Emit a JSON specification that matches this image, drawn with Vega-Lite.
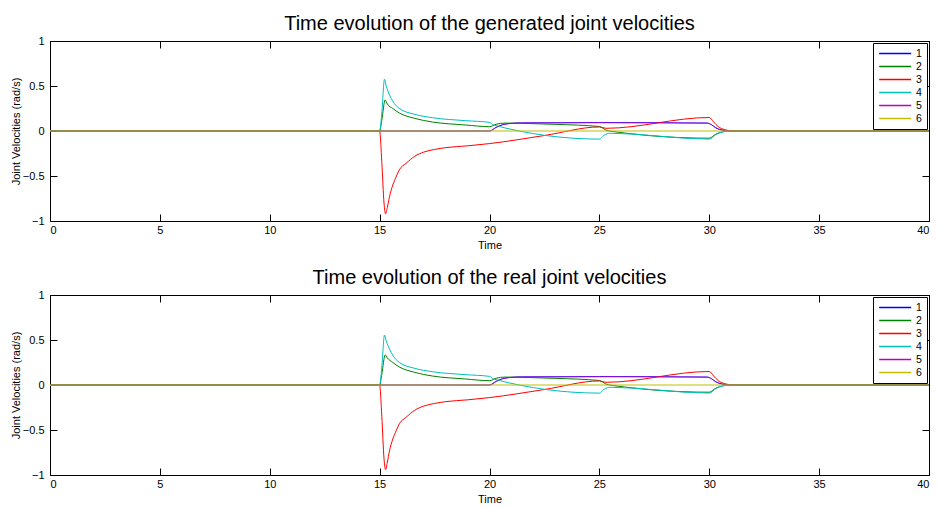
{
  "$schema": "https://vega.github.io/schema/vega-lite/v6.json",
  "padding": {"left": 9, "top": 13, "right": 2, "bottom": 0},
  "background": "white",
  "config": {
    "font": "Liberation Sans",
    "view": {"stroke": "black", "strokeWidth": 1},
    "concat": {"spacing": 16},
    "title": {"fontSize": 20, "fontWeight": "normal", "color": "black", "offset": 1, "anchor": "middle"},
    "axis": {
      "grid": false,
      "domainColor": "black",
      "tickColor": "black",
      "labelColor": "black",
      "titleColor": "black",
      "labelFontSize": 11,
      "titleFontSize": 11,
      "titleFontWeight": "normal",
      "tickSize": -7,
      "labelPadding": 10
    },
    "axisY": {"labelPadding": 13, "titlePadding": 1},
    "legend": {
      "orient": "top-right",
      "offset": 2,
      "fillColor": "white",
      "strokeColor": "black",
      "padding": 5,
      "symbolType": "M-1,0H5",
      "symbolSize": 114,
      "symbolStrokeWidth": 1.5,
      "labelFontSize": 10.5,
      "labelOffset": 25,
      "rowPadding": 2,
      "clipHeight": 11
    }
  },
  "datasets": {
    "gen": [
      {"j": "1", "t": 0, "v": 0}, {"j": "1", "t": 20, "v": 0}, {"j": "1", "t": 20.3, "v": 0.04}, {"j": "1", "t": 20.6, "v": 0.07}, {"j": "1", "t": 21, "v": 0.085}, {"j": "1", "t": 21.5, "v": 0.09}, {"j": "1", "t": 25, "v": 0.093}, {"j": "1", "t": 29.9, "v": 0.088}, {"j": "1", "t": 30.1, "v": 0.07}, {"j": "1", "t": 30.3, "v": 0.035}, {"j": "1", "t": 30.6, "v": 0.01}, {"j": "1", "t": 31, "v": 0}, {"j": "1", "t": 40, "v": 0},
      {"j": "2", "t": 0, "v": 0}, {"j": "2", "t": 15, "v": 0}, {"j": "2", "t": 15.1, "v": 0.12}, {"j": "2", "t": 15.25, "v": 0.345}, {"j": "2", "t": 15.35, "v": 0.3}, {"j": "2", "t": 15.6, "v": 0.25}, {"j": "2", "t": 15.9, "v": 0.2}, {"j": "2", "t": 16.6, "v": 0.14}, {"j": "2", "t": 17.4, "v": 0.1}, {"j": "2", "t": 18.9, "v": 0.067}, {"j": "2", "t": 20, "v": 0.048}, {"j": "2", "t": 20.3, "v": 0.075}, {"j": "2", "t": 20.7, "v": 0.088}, {"j": "2", "t": 21.5, "v": 0.085}, {"j": "2", "t": 23, "v": 0.074}, {"j": "2", "t": 25, "v": 0.05}, {"j": "2", "t": 25.3, "v": 0.01}, {"j": "2", "t": 25.6, "v": -0.005}, {"j": "2", "t": 30, "v": -0.08}, {"j": "2", "t": 30.3, "v": -0.035}, {"j": "2", "t": 30.6, "v": -0.01}, {"j": "2", "t": 31, "v": 0}, {"j": "2", "t": 40, "v": 0},
      {"j": "3", "t": 0, "v": 0}, {"j": "3", "t": 15, "v": 0}, {"j": "3", "t": 15.1, "v": -0.35}, {"j": "3", "t": 15.2, "v": -0.8}, {"j": "3", "t": 15.27, "v": -0.92}, {"j": "3", "t": 15.35, "v": -0.85}, {"j": "3", "t": 15.45, "v": -0.73}, {"j": "3", "t": 15.6, "v": -0.6}, {"j": "3", "t": 15.75, "v": -0.51}, {"j": "3", "t": 15.9, "v": -0.43}, {"j": "3", "t": 16.2, "v": -0.36}, {"j": "3", "t": 16.6, "v": -0.28}, {"j": "3", "t": 17, "v": -0.235}, {"j": "3", "t": 17.5, "v": -0.205}, {"j": "3", "t": 18, "v": -0.185}, {"j": "3", "t": 19, "v": -0.165}, {"j": "3", "t": 20, "v": -0.14}, {"j": "3", "t": 22.5, "v": -0.05}, {"j": "3", "t": 25, "v": 0.045}, {"j": "3", "t": 25.3, "v": 0.03}, {"j": "3", "t": 30, "v": 0.15}, {"j": "3", "t": 30.2, "v": 0.1}, {"j": "3", "t": 30.4, "v": 0.05}, {"j": "3", "t": 30.7, "v": 0.015}, {"j": "3", "t": 31, "v": 0.003}, {"j": "3", "t": 31.5, "v": 0}, {"j": "3", "t": 40, "v": 0},
      {"j": "4", "t": 0, "v": 0}, {"j": "4", "t": 15, "v": 0}, {"j": "4", "t": 15.1, "v": 0.2}, {"j": "4", "t": 15.22, "v": 0.575}, {"j": "4", "t": 15.3, "v": 0.5}, {"j": "4", "t": 15.45, "v": 0.4}, {"j": "4", "t": 15.6, "v": 0.33}, {"j": "4", "t": 15.9, "v": 0.25}, {"j": "4", "t": 16.6, "v": 0.185}, {"j": "4", "t": 17.4, "v": 0.148}, {"j": "4", "t": 18.9, "v": 0.115}, {"j": "4", "t": 20, "v": 0.096}, {"j": "4", "t": 20.2, "v": 0.065}, {"j": "4", "t": 25, "v": -0.09}, {"j": "4", "t": 25.2, "v": -0.05}, {"j": "4", "t": 25.5, "v": -0.025}, {"j": "4", "t": 30, "v": -0.09}, {"j": "4", "t": 30.3, "v": -0.04}, {"j": "4", "t": 30.6, "v": -0.01}, {"j": "4", "t": 31, "v": 0}, {"j": "4", "t": 40, "v": 0},
      {"j": "5", "t": 0, "v": 0}, {"j": "5", "t": 20, "v": 0}, {"j": "5", "t": 20.3, "v": 0.04}, {"j": "5", "t": 20.6, "v": 0.07}, {"j": "5", "t": 21, "v": 0.085}, {"j": "5", "t": 21.5, "v": 0.09}, {"j": "5", "t": 25, "v": 0.093}, {"j": "5", "t": 29.9, "v": 0.088}, {"j": "5", "t": 30.1, "v": 0.07}, {"j": "5", "t": 30.3, "v": 0.035}, {"j": "5", "t": 30.6, "v": 0.01}, {"j": "5", "t": 31, "v": 0}, {"j": "5", "t": 40, "v": 0},
      {"j": "6", "t": 0, "v": 0}, {"j": "6", "t": 40, "v": 0}
    ],
    "real": [
      {"j": "1", "t": 0, "v": 0}, {"j": "1", "t": 20, "v": 0}, {"j": "1", "t": 20.3, "v": 0.04}, {"j": "1", "t": 20.6, "v": 0.07}, {"j": "1", "t": 21, "v": 0.085}, {"j": "1", "t": 21.5, "v": 0.09}, {"j": "1", "t": 25, "v": 0.093}, {"j": "1", "t": 29.9, "v": 0.088}, {"j": "1", "t": 30.1, "v": 0.07}, {"j": "1", "t": 30.3, "v": 0.035}, {"j": "1", "t": 30.6, "v": 0.01}, {"j": "1", "t": 31, "v": 0}, {"j": "1", "t": 40, "v": 0},
      {"j": "2", "t": 0, "v": 0}, {"j": "2", "t": 15, "v": 0}, {"j": "2", "t": 15.1, "v": 0.12}, {"j": "2", "t": 15.25, "v": 0.335}, {"j": "2", "t": 15.35, "v": 0.3}, {"j": "2", "t": 15.6, "v": 0.25}, {"j": "2", "t": 15.9, "v": 0.2}, {"j": "2", "t": 16.6, "v": 0.14}, {"j": "2", "t": 17.4, "v": 0.1}, {"j": "2", "t": 18.9, "v": 0.067}, {"j": "2", "t": 20, "v": 0.048}, {"j": "2", "t": 20.3, "v": 0.075}, {"j": "2", "t": 20.7, "v": 0.088}, {"j": "2", "t": 21.5, "v": 0.085}, {"j": "2", "t": 23, "v": 0.074}, {"j": "2", "t": 25, "v": 0.05}, {"j": "2", "t": 25.3, "v": 0.01}, {"j": "2", "t": 25.6, "v": -0.005}, {"j": "2", "t": 30, "v": -0.08}, {"j": "2", "t": 30.3, "v": -0.035}, {"j": "2", "t": 30.6, "v": -0.01}, {"j": "2", "t": 31, "v": 0}, {"j": "2", "t": 40, "v": 0},
      {"j": "3", "t": 0, "v": 0}, {"j": "3", "t": 15, "v": 0}, {"j": "3", "t": 15.1, "v": -0.35}, {"j": "3", "t": 15.2, "v": -0.82}, {"j": "3", "t": 15.27, "v": -0.94}, {"j": "3", "t": 15.35, "v": -0.86}, {"j": "3", "t": 15.45, "v": -0.73}, {"j": "3", "t": 15.6, "v": -0.6}, {"j": "3", "t": 15.75, "v": -0.51}, {"j": "3", "t": 15.9, "v": -0.43}, {"j": "3", "t": 16.2, "v": -0.36}, {"j": "3", "t": 16.6, "v": -0.28}, {"j": "3", "t": 17, "v": -0.235}, {"j": "3", "t": 17.5, "v": -0.205}, {"j": "3", "t": 18, "v": -0.185}, {"j": "3", "t": 19, "v": -0.165}, {"j": "3", "t": 20, "v": -0.14}, {"j": "3", "t": 22.5, "v": -0.05}, {"j": "3", "t": 25, "v": 0.045}, {"j": "3", "t": 25.3, "v": 0.03}, {"j": "3", "t": 30, "v": 0.15}, {"j": "3", "t": 30.2, "v": 0.1}, {"j": "3", "t": 30.4, "v": 0.05}, {"j": "3", "t": 30.7, "v": 0.015}, {"j": "3", "t": 31, "v": 0.003}, {"j": "3", "t": 31.5, "v": 0}, {"j": "3", "t": 40, "v": 0},
      {"j": "4", "t": 0, "v": 0}, {"j": "4", "t": 15, "v": 0}, {"j": "4", "t": 15.1, "v": 0.2}, {"j": "4", "t": 15.22, "v": 0.555}, {"j": "4", "t": 15.3, "v": 0.49}, {"j": "4", "t": 15.45, "v": 0.4}, {"j": "4", "t": 15.6, "v": 0.33}, {"j": "4", "t": 15.9, "v": 0.25}, {"j": "4", "t": 16.6, "v": 0.185}, {"j": "4", "t": 17.4, "v": 0.148}, {"j": "4", "t": 18.9, "v": 0.115}, {"j": "4", "t": 20, "v": 0.096}, {"j": "4", "t": 20.2, "v": 0.065}, {"j": "4", "t": 25, "v": -0.09}, {"j": "4", "t": 25.2, "v": -0.05}, {"j": "4", "t": 25.5, "v": -0.025}, {"j": "4", "t": 30, "v": -0.09}, {"j": "4", "t": 30.3, "v": -0.04}, {"j": "4", "t": 30.6, "v": -0.01}, {"j": "4", "t": 31, "v": 0}, {"j": "4", "t": 40, "v": 0},
      {"j": "5", "t": 0, "v": 0}, {"j": "5", "t": 20, "v": 0}, {"j": "5", "t": 20.3, "v": 0.04}, {"j": "5", "t": 20.6, "v": 0.07}, {"j": "5", "t": 21, "v": 0.085}, {"j": "5", "t": 21.5, "v": 0.09}, {"j": "5", "t": 25, "v": 0.093}, {"j": "5", "t": 29.9, "v": 0.088}, {"j": "5", "t": 30.1, "v": 0.07}, {"j": "5", "t": 30.3, "v": 0.035}, {"j": "5", "t": 30.6, "v": 0.01}, {"j": "5", "t": 31, "v": 0}, {"j": "5", "t": 40, "v": 0},
      {"j": "6", "t": 0, "v": 0}, {"j": "6", "t": 40, "v": 0}
    ]
  },
  "vconcat": [
    {
      "title": "Time evolution of the generated joint velocities",
      "width": 879,
      "height": 180,
      "data": {"name": "gen"},
      "layer": [
        {
          "mark": {"type": "line", "strokeWidth": 1, "clip": true, "interpolate": "monotone"},
          "encoding": {
            "x": {"field": "t", "type": "quantitative", "scale": {"domain": [0, 40], "nice": false, "zero": false}, "axis": {"title": "Time", "values": [0, 5, 10, 15, 20, 25, 30, 35, 40], "titlePadding": 4}},
            "y": {"field": "v", "type": "quantitative", "scale": {"domain": [-1, 1], "nice": false}, "axis": {"title": "Joint Velocities (rad/s)", "values": [-1, -0.5, 0, 0.5, 1], "format": "~g"}},
            "color": {"field": "j", "type": "nominal", "scale": {"domain": ["1", "2", "3", "4", "5", "6"], "range": ["#0000ff", "#008000", "#ff0000", "#00bfbf", "#bf00bf", "#bfbf00"]}, "legend": {"title": null}},
            "strokeOpacity": {"condition": {"test": "datum.j == '5'", "value": 0.6}, "value": 1}
          }
        },
        {
          "mark": {"type": "point", "opacity": 0},
          "encoding": {
            "x": {"field": "t", "type": "quantitative", "axis": {"orient": "top", "labels": false, "title": null, "labelPadding": 0, "minExtent": 0, "maxExtent": 0, "values": [0, 5, 10, 15, 20, 25, 30, 35, 40]}},
            "y": {"field": "v", "type": "quantitative", "axis": {"orient": "right", "labels": false, "title": null, "labelPadding": 0, "minExtent": 0, "maxExtent": 0, "values": [-1, -0.5, 0, 0.5, 1]}}
          }
        }
      ],
      "resolve": {"axis": {"x": "independent", "y": "independent"}}
    },
    {
      "title": "Time evolution of the real joint velocities",
      "width": 879,
      "height": 180,
      "data": {"name": "real"},
      "layer": [
        {
          "mark": {"type": "line", "strokeWidth": 1, "clip": true, "interpolate": "monotone"},
          "encoding": {
            "x": {"field": "t", "type": "quantitative", "scale": {"domain": [0, 40], "nice": false, "zero": false}, "axis": {"title": "Time", "values": [0, 5, 10, 15, 20, 25, 30, 35, 40], "titlePadding": 4}},
            "y": {"field": "v", "type": "quantitative", "scale": {"domain": [-1, 1], "nice": false}, "axis": {"title": "Joint Velocities (rad/s)", "values": [-1, -0.5, 0, 0.5, 1], "format": "~g"}},
            "color": {"field": "j", "type": "nominal", "scale": {"domain": ["1", "2", "3", "4", "5", "6"], "range": ["#0000ff", "#008000", "#ff0000", "#00bfbf", "#bf00bf", "#bfbf00"]}, "legend": {"title": null}},
            "strokeOpacity": {"condition": {"test": "datum.j == '5'", "value": 0.6}, "value": 1}
          }
        },
        {
          "mark": {"type": "point", "opacity": 0},
          "encoding": {
            "x": {"field": "t", "type": "quantitative", "axis": {"orient": "top", "labels": false, "title": null, "labelPadding": 0, "minExtent": 0, "maxExtent": 0, "values": [0, 5, 10, 15, 20, 25, 30, 35, 40]}},
            "y": {"field": "v", "type": "quantitative", "axis": {"orient": "right", "labels": false, "title": null, "labelPadding": 0, "minExtent": 0, "maxExtent": 0, "values": [-1, -0.5, 0, 0.5, 1]}}
          }
        }
      ],
      "resolve": {"axis": {"x": "independent", "y": "independent"}}
    }
  ],
  "resolve": {"scale": {"color": "independent"}, "legend": {"color": "independent"}}
}
